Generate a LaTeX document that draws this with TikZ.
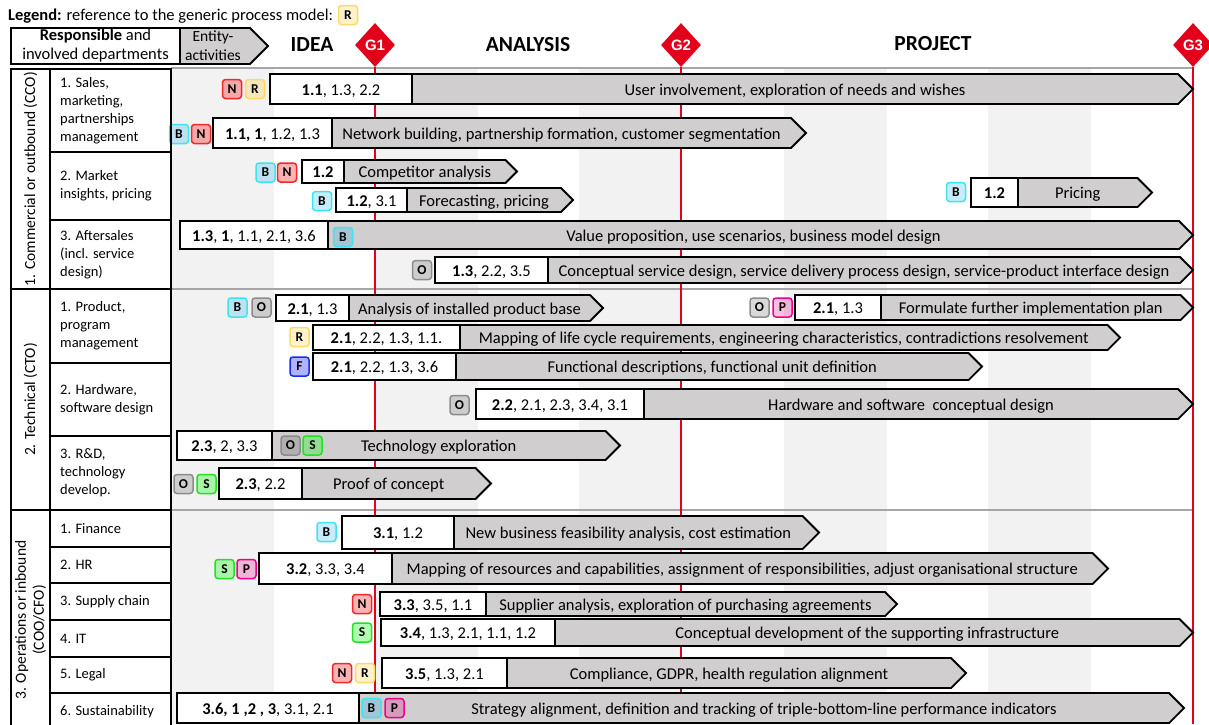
\documentclass[tikz,border=0pt]{standalone}
\usepackage{fontspec}
\setmainfont{Carlito}
\newfontfamily\gatefont{Liberation Sans}
\usetikzlibrary{shapes.geometric}

\definecolor{gatered}{HTML}{E2001A}
\definecolor{barfill}{HTML}{D0CECE}
\definecolor{stripegray}{HTML}{F2F2F2}
\definecolor{sepgray}{HTML}{A6A6A6}
\definecolor{tagcyan}{HTML}{3CE4F0}
\definecolor{tagred}{HTML}{F02828}
\definecolor{taggold}{HTML}{FFD966}
\definecolor{tagorange}{HTML}{FFC000}
\definecolor{taggray}{HTML}{8C8C8C}
\definecolor{taggreen}{HTML}{22E022}
\definecolor{tagblue}{HTML}{1030F0}

% balk aktivitas: nama, y, tinggi, x awal, x batas, x ujung, kode, teks
\newcommand{\taskbar}[8]{%
  \draw[actbar] (#5,#2-#3/2) -- (#6-#3/2,#2-#3/2) -- (#6,#2)
    -- (#6-#3/2,#2+#3/2) -- (#5,#2+#3/2) -- cycle;
  \node[codebox, minimum width=#5-#4, minimum height=#3] (#1) at ({(#4+#5)/2},#2) {#7};
  \node[acttext] (#1t) at ({(#5+#6-#3/2)/2},#2) {#8};
}

\begin{document}
\begin{tikzpicture}[x=1pt, y=-1pt, font=\fontsize{16.5}{19}\selectfont,
  actbar/.style={draw, line width=1.8pt, fill=barfill, line join=miter},
  codebox/.style={draw, line width=1.8pt, fill=white, inner sep=0pt, text height=14pt, text depth=2pt},
  acttext/.style={inner sep=0pt, text height=14pt, text depth=2pt},
  tag/.style={draw, rounded corners=3pt, line width=1.5pt, minimum size=19pt,
    inner sep=0pt, text opacity=1, font=\fontsize{13.5}{13.5}\selectfont\bfseries},
  tagB/.style={tag, draw=tagcyan, fill=cyan, fill opacity=0.22},
  tagN/.style={tag, draw=tagred, fill=red, fill opacity=0.3},
  tagR/.style={tag, draw=taggold, fill=tagorange, fill opacity=0.2},
  tagO/.style={tag, draw=taggray, fill=black, fill opacity=0.15},
  tagS/.style={tag, draw=taggreen, fill=green, fill opacity=0.3},
  tagP/.style={tag, draw=magenta, fill=magenta, fill opacity=0.25},
  tagF/.style={tag, draw=tagblue, fill=blue, fill opacity=0.3},
  dept/.style={anchor=west, align=left, inner sep=0pt, font=\fontsize{14.5}{18}\selectfont},
  grp/.style={rotate=90, align=center, inner sep=0pt, font=\fontsize{15.5}{18}\selectfont},
  phase/.style={font=\fontsize{21.5}{24}\selectfont\bfseries},
  gate/.style={diamond, fill=gatered, minimum width=40pt, minimum height=44pt,
    inner sep=0pt, text=white, font=\gatefont\fontsize{15}{15}\selectfont\bfseries},
  gateline/.style={gatered, line width=2pt},
  sep/.style={sepgray, line width=2pt},
  tbl/.style={line width=1.6pt}]

\useasboundingbox (0,0) rectangle (1209,724);
\clip (0,0) rectangle (1209,724);

% latar kolom
\foreach \xa/\xb in {172/274, 375/478, 579/681, 784/887, 988/1091}
  \fill[stripegray] (\xa,69) rectangle (\xb,724);

% garis pemisah kelompok
\draw[sep] (171,68) -- (1193,68);
\draw[sep] (171,289) -- (1193,289);
\draw[sep] (171,510) -- (1193,510);

% gerbang
\node[gate] (G1) at (375,45) {G1};
\node[gate] (G2) at (681,45) {G2};
\node[gate] (G3) at (1193,45) {G3};
\coordinate (G1end) at (375,724);
\coordinate (G2end) at (681,724);
\coordinate (G3end) at (1193,724);
\draw[gateline] (G1.south) -- (G1end);
\draw[gateline] (G2.south) -- (G2end);
\draw[gateline] (G3.south) -- (G3end);

% fase
\node[phase] (idea) at (312,45) {IDEA};
\node[phase] (analysis) at (528,45) {ANALYSIS};
\node[phase] (project) at (933,44) {PROJECT};

% legenda dan kepala tabel
\node[anchor=west, inner sep=0pt] (legend) at (8,16) {\textbf{Legend:} reference to the generic process model:};
\node[tagR] (legR) at (348,15) {R};
\draw[actbar] (180,28) -- (250,28) -- (268,46) -- (250,64) -- (180,64) -- cycle;
\node[align=center, inner sep=0pt, font=\fontsize{15.5}{19}\selectfont] (entity) at (213,46) {Entity-\\activities};
\node[draw, tbl, fill=white, minimum width=169pt, minimum height=36pt, align=center, inner sep=0pt]
  (resp) at (95.5,46) {\textbf{Responsible} and\\involved departments};

% 1. commercial
\taskbar{a11}{89}{30}{270}{412}{1193}{\textbf{1.1}, 1.3, 2.2}{User involvement, exploration of needs and wishes}
\taskbar{a12}{133}{30}{213}{332}{806}{\textbf{1.1, 1}, 1.2, 1.3}{Network building, partnership formation, customer segmentation}
\taskbar{a13}{171.5}{23}{302}{344}{517}{\textbf{1.2}}{Competitor analysis}
\taskbar{a14}{200}{24}{336}{407}{573}{\textbf{1.2}, 3.1}{Forecasting, pricing}
\taskbar{a15}{192.5}{29}{971}{1018}{1152}{\textbf{1.2}}{Pricing}
\taskbar{a16}{235}{28}{180}{328}{1193}{\textbf{1.3}, \textbf{1}, 1.1, 2.1, 3.6}{Value proposition, use scenarios, business model design}
\taskbar{a17}{270}{26}{435}{548}{1193}{\textbf{1.3}, 2.2, 3.5}{Conceptual service design, service delivery process design, service-product interface design}

% 2. technical
\taskbar{a21}{308}{26}{276}{349}{603}{\textbf{2.1}, 1.3}{Analysis of installed product base}
\taskbar{a22}{307.5}{25}{795}{881}{1193}{\textbf{2.1}, 1.3}{Formulate further implementation plan}
\taskbar{a23}{337.5}{25}{313}{460}{1120}{\textbf{2.1}, 2.2, 1.3, 1.1.}{Mapping of life cycle requirements, engineering characteristics, contradictions resolvement}
\taskbar{a24}{366.5}{27}{313}{456}{982}{\textbf{2.1}, 2.2, 1.3, 3.6}{Functional descriptions, functional unit definition}
\taskbar{a25}{404}{30}{476}{644}{1193}{\textbf{2.2}, 2.1, 2.3, 3.4, 3.1}{Hardware and software\ \ conceptual design}
\taskbar{a26}{445.5}{29}{177}{272}{620}{\textbf{2.3}, 2, 3.3}{Technology exploration}
\taskbar{a27}{483.5}{31}{219}{302}{491}{\textbf{2.3}, 2.2}{Proof of concept}

% 3. operations
\taskbar{a31}{532.5}{33}{342}{454}{819}{\textbf{3.1}, 1.2}{New business feasibility analysis, cost estimation}
\taskbar{a32}{568.5}{31}{259}{392}{1108}{\textbf{3.2}, 3.3, 3.4}{Mapping of resources and capabilities, assignment of responsibilities, adjust organisational structure}
\taskbar{a33}{604}{24}{380}{486}{897}{\textbf{3.3}, 3.5, 1.1}{Supplier analysis, exploration of purchasing agreements}
\taskbar{a34}{632.5}{27}{381}{555}{1193}{\textbf{3.4}, 1.3, 2.1, 1.1, 1.2}{Conceptual development of the supporting infrastructure}
\taskbar{a35}{673}{30}{382}{507}{966}{\textbf{3.5}, 1.3, 2.1}{Compliance, GDPR, health regulation alignment}
\taskbar{a36}{708}{30}{177}{359}{1184}{\textbf{3.6, 1 ,2 , 3}, 3.1, 2.1}{Strategy alignment, definition and tracking of triple-bottom-line performance indicators}

% penanda model proses
\node[tagN] (n11) at (232,89) {N};
\node[tagR] (r11) at (255,89) {R};
\node[tagB] (b12) at (179,134) {B};
\node[tagN] (n12) at (201,134) {N};
\node[tagB] (b13) at (265.5,172.5) {B};
\node[tagN] (n13) at (287,172.5) {N};
\node[tagB] (b14) at (322,201) {B};
\node[tagB] (b15) at (956,192) {B};
\node[tagB] (b16) at (343,237) {B};
\node[tagO] (o17) at (422,270) {O};
\node[tagB] (b21) at (237.5,307.5) {B};
\node[tagO] (o21) at (261.5,307.5) {O};
\node[tagO] (o22) at (759.5,307.5) {O};
\node[tagP] (p22) at (782.5,307.5) {P};
\node[tagR] (r23) at (299.5,337) {R};
\node[tagF] (f24) at (299.5,366.5) {F};
\node[tagO] (o25) at (459.5,405) {O};
\node[tagO] (o26) at (290.5,445.5) {O};
\node[tagS] (s26) at (312.5,445.5) {S};
\node[tagO] (o27) at (183.5,484) {O};
\node[tagS] (s27) at (206.5,484) {S};
\node[tagB] (b31) at (326.5,532) {B};
\node[tagS] (s32) at (224.5,569) {S};
\node[tagP] (p32) at (246.5,569) {P};
\node[tagN] (n33) at (362,604) {N};
\node[tagS] (s34) at (362,632.5) {S};
\node[tagN] (n35) at (342,673) {N};
\node[tagR] (r35) at (365,673) {R};
\node[tagB] (b36) at (371.5,708) {B};
\node[tagP] (p36) at (394.5,708) {P};

% tabel departemen
\foreach \ya/\yb in {69/152, 152/220, 220/289, 289/363, 363/436, 436/510,
    510/547, 547/583, 583/620, 620/657, 657/693, 693/730}
  \draw[tbl] (50,\ya) rectangle (171,\yb);
\foreach \ya/\yb in {69/289, 289/510, 510/730}
  \draw[tbl, line width=2.2pt] (11,\ya) rectangle (171,\yb);

\node[grp] (g1) at (30.5,179) {1. Commercial or outbound (CCO)};
\node[grp] (g2) at (30.5,399.5) {2. Technical (CTO)};
\node[grp] (g3) at (30.5,620) {3. Operations or inbound\\(COO/CFO)};

\node[dept] (d11) at (60,110.5) {1. Sales,\\marketing,\\partnerships\\management};
\node[dept] (d12) at (60,186) {2. Market\\insights, pricing};
\node[dept] (d13) at (60,254.5) {3. Aftersales\\(incl. service\\design)};
\node[dept] (d21) at (60,326) {1. Product,\\program\\management};
\node[dept] (d22) at (60,399.5) {2. Hardware,\\software design};
\node[dept] (d23) at (60,473) {3. R\&D,\\technology\\develop.};
\node[dept] (d31) at (60,528.5) {1. Finance};
\node[dept] (d32) at (60,565) {2. HR};
\node[dept] (d33) at (60,601.5) {3. Supply chain};
\node[dept] (d34) at (60,638.5) {4. IT};
\node[dept] (d35) at (60,675) {5. Legal};
\node[dept] (d36) at (60,711.5) {6. Sustainability};
\end{tikzpicture}
\end{document}
